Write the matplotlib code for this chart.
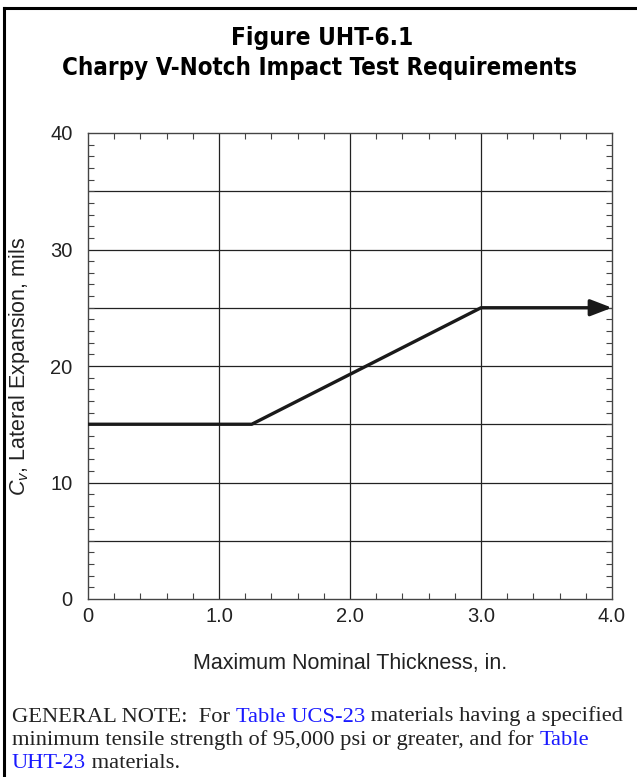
import matplotlib
matplotlib.use("Agg")
from matplotlib import pyplot as plt
from matplotlib.lines import Line2D
from matplotlib.ticker import MultipleLocator, FixedLocator
import numpy as np

# data
thick = [0.0, 1.25, 3.0, 4.0]
cv = [15, 15, 25, 25]
x_ticks = [0, 1.0, 2.0, 3.0, 4.0]
x_labels = ["0", "1.0", "2.0", "3.0", "4.0"]
y_ticks = [0, 10, 20, 30, 40]
y_grid = [5, 10, 15, 20, 25, 30, 35]
x_grid = [1.0, 2.0, 3.0]

W, H = 637, 777
fig = plt.figure(figsize=(W / 100, H / 100), dpi=100)
fig.patch.set_facecolor("white")
plt.rcParams['mathtext.fontset'] = 'custom'
plt.rcParams['mathtext.it'] = 'Liberation Sans:italic'
plt.rcParams['mathtext.rm'] = 'Liberation Sans'

# frame lines (left and top)
fig.add_artist(Line2D([4 / W, 4 / W], [0, 1 - 8 / H], transform=fig.transFigure, color="black", lw=2.2))
fig.add_artist(Line2D([4 / W, 1], [1 - 8 / H, 1 - 8 / H], transform=fig.transFigure, color="black", lw=2.2))

title_font = ["DejaVu Sans"]
fig.text(322 / W, 1 - 38 / H, "Figure UHT-6.1", ha="center", va="center",
         fontsize=17.5, fontweight="bold", family=title_font, fontstretch="condensed")
fig.text(320 / W, 1 - 68 / H, "Charpy V-Notch Impact Test Requirements", ha="center", va="center",
         fontsize=17.3, fontweight="bold", family=title_font, fontstretch="condensed")

# axes: x 0 -> 88px, 4 -> 612px; y 40 -> 133px, 0 -> 599px
ax = fig.add_axes([88 / W, 1 - 599 / H, (612 - 88) / W, (599 - 133) / H])
ax.set_xlim(0, 4)
ax.set_ylim(0, 40)

for g in x_grid:
    ax.axvline(g, color="#222222", lw=0.9, zorder=1)
for g in y_grid:
    ax.axhline(g, color="#222222", lw=0.9, zorder=1)

ax.plot(thick[:-1] + [thick[-1] - 0.1], cv, color="#1a1a1a", lw=2.4,
        solid_capstyle="butt", zorder=3)
ax.annotate("", xy=(thick[-1], cv[-1]), xytext=(thick[-1] - 0.12, cv[-1]),
            arrowprops=dict(arrowstyle="-|>,head_length=1.3,head_width=0.5", color="#1a1a1a", lw=2.4,
                            shrinkA=0, shrinkB=0),
            zorder=4, annotation_clip=False)

ax_font = "Liberation Sans"
ax.xaxis.set_major_locator(FixedLocator(x_ticks))
ax.set_xticklabels(x_labels, family=ax_font)
ax.xaxis.set_minor_locator(MultipleLocator(0.2))
ax.yaxis.set_major_locator(FixedLocator(y_ticks))
ax.set_yticklabels([str(v) for v in y_ticks], family=ax_font)
ax.yaxis.set_minor_locator(MultipleLocator(1))
ax.tick_params(which="both", direction="in", top=True, right=True, color="#444444")
ax.tick_params(which="major", length=0, labelsize=14.5, labelcolor="#222222")
ax.tick_params(axis="x", which="major", pad=6)
ax.tick_params(axis="y", which="major", pad=11)
ax.tick_params(which="minor", length=4, width=0.8)
for s in ax.spines.values():
    s.set_color("#444444")
    s.set_linewidth(1.0)

ax.set_xlabel("Maximum Nominal Thickness, in.", fontsize=15.5, color="#222222", family=ax_font)
ax.xaxis.set_label_coords(0.5, -(663 - 599) / (599 - 133))
ax.set_ylabel(r"$C_{v}$, Lateral Expansion, mils", fontsize=15.5, color="#222222", family=ax_font)
ax.yaxis.set_label_coords(-(88 - 20) / (612 - 88), 0.5)
ax.yaxis.label.set_va("center")
ax.xaxis.label.set_va("center")

# general note with blue references
note_font = ["Liberation Serif", "DejaVu Serif"]
lines = [
    [("GENERAL NOTE:  For ", "#222222"), ("Table UCS-23", "#1a1aff"),
     (" materials having a specified", "#222222")],
    [("minimum tensile strength of 95,000 psi or greater, and for ", "#222222"),
     ("Table", "#1a1aff")],
    [("UHT-23", "#1a1aff"), (" materials.", "#222222")],
]
ys = [717, 740, 763]
for segs, yy in zip(lines, ys):
    t = fig.text(12 / W, 1 - yy / H, segs[0][0], color=segs[0][1], fontsize=16.2,
                 family=note_font, va="center", ha="left")
    for txt, col in segs[1:]:
        t = plt.annotate(txt, xy=(1, 0), xycoords=t, va="bottom", ha="left",
                         color=col, fontsize=16.2, family=note_font)

fig.savefig("out.png", dpi=100)
